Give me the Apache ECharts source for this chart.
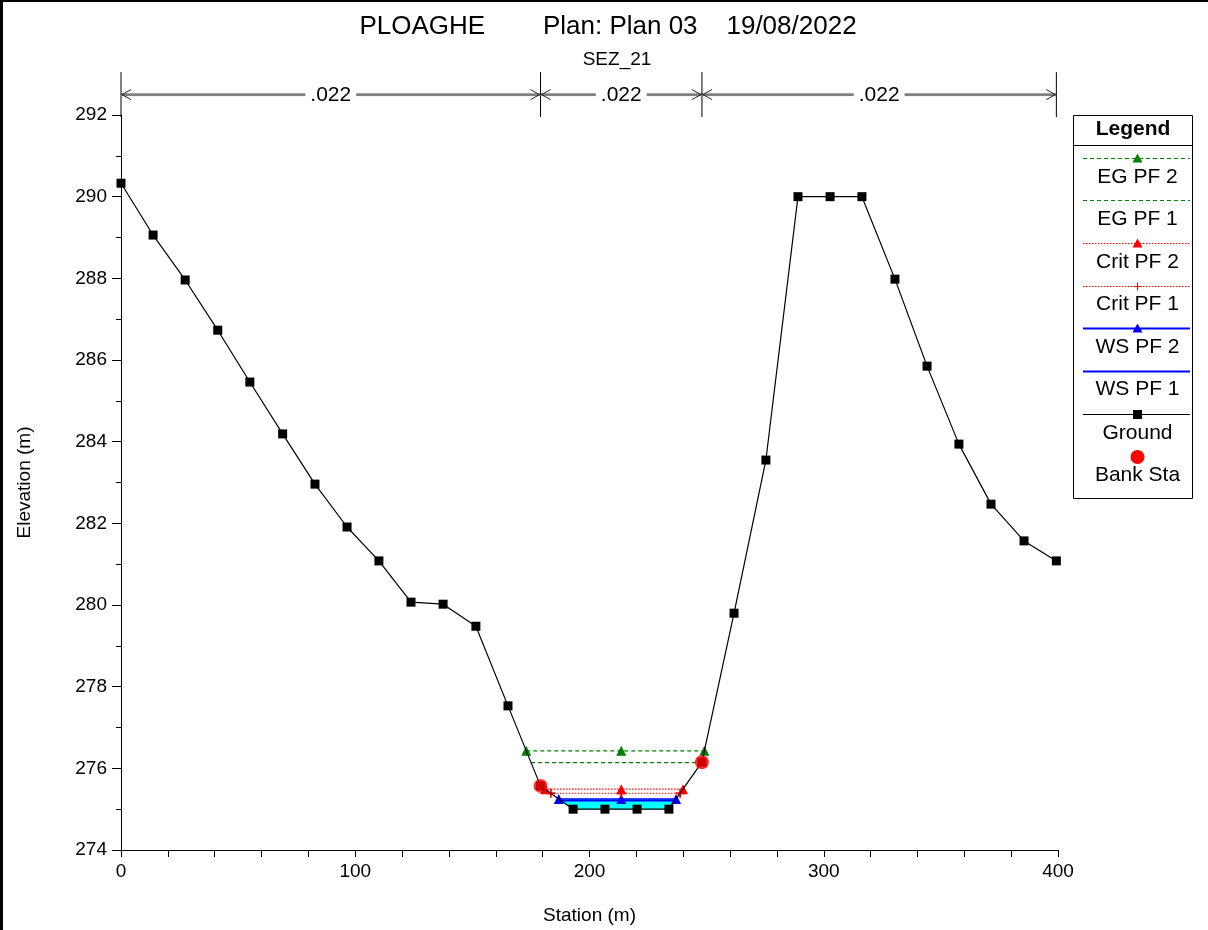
<!DOCTYPE html>
<html>
<head>
<meta charset="utf-8">
<script src="https://cdn.jsdelivr.net/npm/echarts@6/dist/echarts.min.js"></script>
<style>
html,body{margin:0;padding:0;background:#fff;}
#c{width:1208px;height:930px;}
</style>
</head>
<body>
<div id="c"></div>
<script>
// ---------------- DATA ----------------
const stations = [0, 13.7, 27.4, 41.3, 55.0, 69.0, 82.8, 96.5, 110.1, 123.8, 137.5, 151.5, 165.2, 179.1, 193.0, 206.6, 220.3, 233.9, 248.0, 261.7, 275.3, 289.0, 302.7, 316.3, 330.4, 344.1, 357.7, 371.4, 385.5, 399.3];
const elevations = [290.33, 289.06, 287.96, 286.73, 285.46, 284.19, 282.96, 281.91, 281.08, 280.07, 280.02, 279.48, 277.53, 275.57, 275.0, 275.0, 275.0, 275.0, 276.15, 279.80, 283.55, 290.0, 290.0, 290.0, 287.98, 285.85, 283.94, 282.47, 281.57, 281.08];
const bankStations = [179.1, 248.0];
const profileNames = ['EG PF 2', 'EG PF 1', 'Crit PF 2', 'Crit PF 1', 'WS PF 2', 'WS PF 1'];
const profileLevels = [276.43, 276.14, 275.49, 275.39, 275.25, 275.21];
const nBreaks = [0, 179.1, 248.0, 399.3];
const nValues = ['.022', '.022', '.022'];
const xTicks = [0, 100, 200, 300, 400];
const yTicks = [274, 276, 278, 280, 282, 284, 286, 288, 290, 292];
const legendNames = ['EG PF 2', 'EG PF 1', 'Crit PF 2', 'Crit PF 1', 'WS PF 2', 'WS PF 1', 'Ground', 'Bank Sta'];
const titleText = 'PLOAGHE        Plan: Plan 03    19/08/2022';
const subTitleText = 'SEZ_21';

// ---------------- DERIVED ----------------
const FONT = '"Liberation Sans", Arial, sans-serif';
const n = stations.length;
const lowIdx = elevations.indexOf(Math.min(...elevations));
function crossing(h, dir) {
  let i = lowIdx;
  while (i + dir >= 0 && i + dir < n && elevations[i + dir] < h) i += dir;
  const j = i + dir;
  const t = (h - elevations[i]) / (elevations[j] - elevations[i]);
  return { x: stations[i] + t * (stations[j] - stations[i]), inner: i };
}
const midSta = (bankStations[0] + bankStations[1]) / 2;
function levelData(h) {
  const L = crossing(h, -1), R = crossing(h, 1);
  return [[L.x, h], [midSta, h], [R.x, h]];
}
// water polygon (highest WS)
const wsLevel = profileLevels[4];
const wL = crossing(wsLevel, -1), wR = crossing(wsLevel, 1);
const waterPts = [[wL.x, wsLevel]];
for (let k = wL.inner; k <= wR.inner; k++) waterPts.push([stations[k], elevations[k]]);
waterPts.push([wR.x, wsLevel]);

const groundData = stations.map((s, i) => [s, elevations[i]]);
const bankData = bankStations.map(s => [s, elevations[stations.indexOf(s)]]);

const GREEN = '#008000', RED = '#ff0000', BLUE = '#0000ff';
const PLUS = 'path://M4,0L6,0L6,4L10,4L10,6L6,6L6,10L4,10L4,6L0,6L0,4L4,4Z';
const styles = {
  'EG PF 2': { color: GREEN, dash: [4, 3], width: 1.3, symbol: 'triangle' },
  'EG PF 1': { color: GREEN, dash: [4, 3], width: 1.3, symbol: 'none' },
  'Crit PF 2': { color: RED, dash: [1.5, 1.5], width: 1.2, symbol: 'triangle' },
  'Crit PF 1': { color: RED, dash: [1.5, 1.5], width: 1.2, symbol: PLUS },
  'WS PF 2': { color: BLUE, dash: null, width: 1.6, symbol: 'triangle' },
  'WS PF 1': { color: BLUE, dash: null, width: 1.6, symbol: 'none' },
  'Ground': { color: '#000', dash: null, width: 1, symbol: 'rect' },
  'Bank Sta': { color: RED, dash: null, width: 0, symbol: 'circle' }
};

const chart = echarts.init(document.getElementById('c'), null, { renderer: 'canvas' });

const series = [];
// water fill
series.push({
  type: 'custom', name: 'water', z: 1, silent: true,
  data: [[waterPts[0][0], wsLevel]],
  renderItem: function (params, api) {
    return { type: 'polygon', shape: { points: waterPts.map(p => api.coord(p)) }, style: { fill: '#00ffff', stroke: null } };
  }
});
// level lines
profileNames.forEach((nm, i) => {
  const st = styles[nm];
  series.push({
    type: 'line', name: nm, z: 3 + (profileNames.length - i) * 0.01,
    data: levelData(profileLevels[i]),
    symbol: st.symbol, showSymbol: st.symbol !== 'none',
    symbolSize: st.symbol === PLUS ? 9 : 10,
    lineStyle: { color: st.color, width: st.width, type: st.dash || 'solid' },
    itemStyle: { color: st.color },
    silent: true
  });
});
// ground
series.push({
  type: 'line', name: 'Ground', z: 5, data: groundData,
  symbol: 'rect', symbolSize: 9,
  lineStyle: { color: '#000', width: 1.2 }, itemStyle: { color: '#000' }, silent: true
});
// bank stations
series.push({
  type: 'scatter', name: 'Bank Sta', z: 6, data: bankData,
  symbol: 'circle', symbolSize: 14, itemStyle: { color: RED }, silent: true
});
// Manning's n annotation
series.push({
  type: 'custom', name: 'nvals', z: 4, silent: true, clip: false,
  data: [[0, 292]],
  renderItem: function (params, api) {
    const yA = api.coord([0, 292.5])[1];
    const yT = api.coord([0, 293.05])[1];
    const yB = api.coord([0, 291.95])[1];
    const xs = nBreaks.map(s => api.coord([s, 292.5])[0]);
    const ch = [];
    xs.forEach(x => ch.push({ type: 'line', shape: { x1: x, y1: yT, x2: x, y2: yB }, style: { stroke: '#000', lineWidth: 1 } }));
    for (let i = 0; i < nValues.length; i++) {
      const x1 = xs[i], x2 = xs[i + 1];
      ch.push({ type: 'line', shape: { x1: x1, y1: yA - 0.5, x2: x2, y2: yA - 0.5 }, style: { stroke: '#222', lineWidth: 1 } });
      ch.push({ type: 'line', shape: { x1: x1, y1: yA + 1, x2: x2, y2: yA + 1 }, style: { stroke: '#777', lineWidth: 1 } });
      ch.push({ type: 'polyline', shape: { points: [[x1 + 10, yA - 5], [x1 + 1, yA], [x1 + 10, yA + 5]] }, style: { stroke: '#222', lineWidth: 1, fill: null } });
      ch.push({ type: 'polyline', shape: { points: [[x2 - 10, yA - 5], [x2 - 1, yA], [x2 - 10, yA + 5]] }, style: { stroke: '#222', lineWidth: 1, fill: null } });
      ch.push({ type: 'text', x: (x1 + x2) / 2, y: yA + 1, style: { text: nValues[i], fontSize: 21, fontFamily: FONT, fill: '#000', align: 'center', verticalAlign: 'middle', backgroundColor: '#fff', padding: [0, 5] } });
    }
    return { type: 'group', children: ch };
  }
});

// legend graphic
const LX1 = 1073.5, LX2 = 1192.5, LTOP = 115.5, LBOT = 498.5;
const lineYs = [158.5, 200.5, 243.5, 286.5, 328.5, 371.5, 414.5, 457];
const textYs = [177, 219, 262, 304, 347, 389, 433, 475];
const lg = [];
lg.push({ type: 'rect', shape: { x: LX1, y: LTOP, width: LX2 - LX1, height: LBOT - LTOP }, style: { fill: '#fff', stroke: '#000', lineWidth: 1 } });
lg.push({ type: 'text', x: (LX1 + LX2) / 2, y: 129, style: { text: 'Legend', fontSize: 21, fontWeight: 'bold', fontFamily: FONT, fill: '#000', align: 'center', verticalAlign: 'middle' } });
lg.push({ type: 'line', shape: { x1: LX1, y1: 145.5, x2: LX2, y2: 145.5 }, style: { stroke: '#000', lineWidth: 1 } });
legendNames.forEach((nm, i) => {
  const st = styles[nm];
  const ly = lineYs[i], cx = 1137.5;
  if (st.width > 0) {
    lg.push({ type: 'line', shape: { x1: 1083, y1: ly, x2: 1190, y2: ly }, style: { stroke: st.color, lineWidth: Math.round(st.width) || 1, lineDash: st.dash || null } });
  }
  if (st.symbol === 'triangle') {
    lg.push({ type: 'polygon', shape: { points: [[cx, ly - 5], [cx + 5, ly + 4], [cx - 5, ly + 4]] }, style: { fill: st.color } });
  } else if (st.symbol === 'rect') {
    lg.push({ type: 'rect', shape: { x: cx - 4.5, y: ly - 4.5, width: 9, height: 9 }, style: { fill: st.color } });
  } else if (st.symbol === 'circle') {
    lg.push({ type: 'circle', shape: { cx: cx, cy: ly, r: 7 }, style: { fill: st.color } });
  } else if (st.symbol === PLUS) {
    lg.push({ type: 'line', shape: { x1: cx - 4, y1: ly, x2: cx + 4, y2: ly }, style: { stroke: st.color, lineWidth: 1 } });
    lg.push({ type: 'line', shape: { x1: cx, y1: ly - 4, x2: cx, y2: ly + 4 }, style: { stroke: st.color, lineWidth: 1 } });
  }
  lg.push({ type: 'text', x: cx, y: textYs[i], style: { text: nm, fontSize: 21, fontFamily: FONT, fill: '#000', align: 'center', verticalAlign: 'middle' } });
});

const option = {
  animation: false,
  backgroundColor: '#fff',
  title: [
    { text: titleText, left: 603, top: 9, textAlign: 'center', textStyle: { fontSize: 26, fontWeight: 'normal', fontFamily: FONT, color: '#000' } },
    { text: subTitleText, left: 612, top: 45, textAlign: 'center', textStyle: { fontSize: 19, fontWeight: 'normal', fontFamily: FONT, color: '#000' } }
  ],
  grid: { left: 121, right: 150, top: 115, bottom: 80, containLabel: false },
  xAxis: {
    type: 'value', min: xTicks[0], max: xTicks[xTicks.length - 1], interval: 100,
    name: 'Station (m)', nameLocation: 'middle', nameGap: 56,
    nameTextStyle: { fontSize: 19, fontFamily: FONT, color: '#000' },
    axisLine: { show: true, lineStyle: { color: '#000', width: 1 } },
    axisTick: { show: true, length: 7, lineStyle: { color: '#000' } },
    minorTick: { show: true, splitNumber: 5, length: 7, lineStyle: { color: '#000' } },
    axisLabel: { fontSize: 19, fontFamily: FONT, color: '#000', margin: 12 },
    splitLine: { show: false }, minorSplitLine: { show: false }
  },
  yAxis: {
    type: 'value', min: yTicks[0], max: yTicks[yTicks.length - 1], interval: 2,
    name: 'Elevation (m)', nameLocation: 'middle', nameGap: 87,
    nameTextStyle: { fontSize: 19, fontFamily: FONT, color: '#000' },
    axisLine: { show: true, lineStyle: { color: '#000', width: 1 } },
    axisTick: { show: true, length: 9, lineStyle: { color: '#000' } },
    minorTick: { show: true, splitNumber: 2, length: 5, lineStyle: { color: '#000' } },
    axisLabel: { fontSize: 19, fontFamily: FONT, color: '#000', margin: 14 },
    splitLine: { show: false }, minorSplitLine: { show: false }
  },
  graphic: [
    { type: 'group', children: lg, z: 100 },
    { type: 'line', shape: { x1: 1.5, y1: 0, x2: 1.5, y2: 930 }, style: { stroke: '#000', lineWidth: 3 }, z: 100 },
    { type: 'line', shape: { x1: 0, y1: 1, x2: 1208, y2: 1 }, style: { stroke: '#000', lineWidth: 2 }, z: 100 }
  ],
  series: series
};
chart.setOption(option);
</script>
</body>
</html>
